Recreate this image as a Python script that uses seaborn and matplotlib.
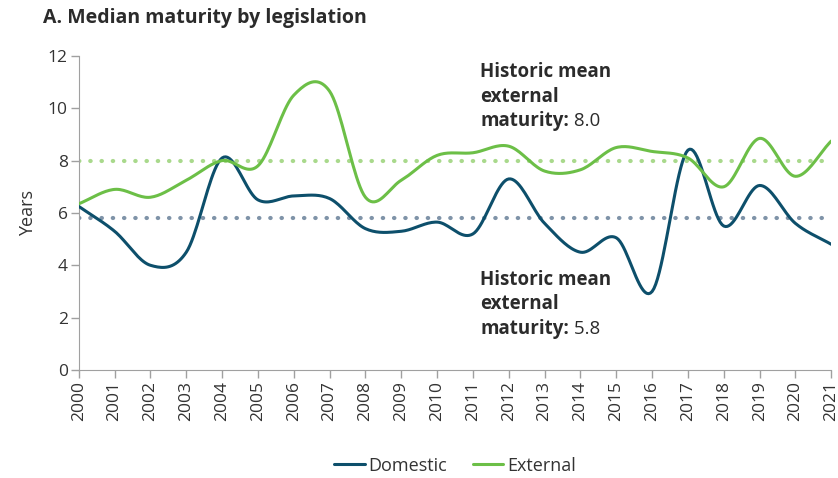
import numpy as np
import pandas as pd
import matplotlib
matplotlib.use("Agg")
import matplotlib.pyplot as plt
import seaborn as sns

# Data
years = list(range(2000, 2022))
domestic = [6.25, 5.3, 4.0, 4.5, 8.1, 6.5, 6.65, 6.55, 5.4, 5.3, 5.65,
            5.2, 7.3, 5.6, 4.5, 5.05, 3.0, 8.4, 5.5, 7.05, 5.6, 4.8]
external = [6.35, 6.9, 6.6, 7.25, 8.0, 7.8, 10.5, 10.65, 6.6, 7.25, 8.2,
            8.3, 8.55, 7.6, 7.65, 8.5, 8.35, 8.1, 7.0, 8.85, 7.4, 8.75]
mean_external = 8.0
mean_domestic = 5.8
series_names = ["Domestic", "External"]
colors = {"Domestic": "#0d4f6b", "External": "#6cbf47"}


def smooth(x, y, n=20):
    """Catmull-Rom style smoothing, like Excel's smoothed line."""
    x = np.asarray(x, float)
    y = np.asarray(y, float)
    px = np.concatenate([[2 * x[0] - x[1]], x, [2 * x[-1] - x[-2]]])
    py = np.concatenate([[2 * y[0] - y[1]], y, [2 * y[-1] - y[-2]]])
    xs, ys = [], []
    t = np.linspace(0, 1, n, endpoint=False)
    for i in range(1, len(px) - 2):
        for arr, out in ((px, xs), (py, ys)):
            p0, p1, p2, p3 = arr[i - 1], arr[i], arr[i + 1], arr[i + 2]
            out.extend(0.5 * ((2 * p1) + (-p0 + p2) * t
                              + (2 * p0 - 5 * p1 + 4 * p2 - p3) * t ** 2
                              + (-p0 + 3 * p1 - 3 * p2 + p3) * t ** 3))
    xs.append(x[-1])
    ys.append(y[-1])
    return np.array(xs), np.array(ys)


sns.set_style("white")
plt.rcParams["font.family"] = ["Open Sans", "DejaVu Sans"]

frames = []
for name, vals in zip(series_names, [domestic, external]):
    sx, sy = smooth(years, vals)
    frames.append(pd.DataFrame({"year": sx, "value": sy, "series": name}))
df = pd.concat(frames, ignore_index=True)

fig = plt.figure(figsize=(8.38, 4.78), dpi=100)
ax = fig.add_axes([0.094, 0.226, 0.898, 0.657])

ax.axhline(mean_external, color="#a9d98c", lw=3.0, ls=(0, (0.1, 2.6)),
           dash_capstyle="round", zorder=1)
ax.axhline(mean_domestic, color="#7f93a8", lw=3.0, ls=(0, (0.1, 2.6)),
           dash_capstyle="round", zorder=1)

sns.lineplot(data=df, x="year", y="value", hue="series", palette=colors,
             lw=2.2, sort=False, estimator=None, ax=ax, zorder=3)

ax.set_xlim(2000, 2021)
ax.set_ylim(0, 12)
ax.set_xticks(years)
ax.set_xticklabels([str(y) for y in years], rotation=90, fontsize=12.5,
                   color="#333333")
ax.set_yticks(range(0, 13, 2))
ax.set_yticklabels([str(v) for v in range(0, 13, 2)], fontsize=12.5,
                   color="#333333")
ax.tick_params(axis="both", length=6, width=1, color="#a0a0a0", pad=2,
               bottom=True, left=True)
for s in ["top", "right"]:
    ax.spines[s].set_visible(False)
for s in ["left", "bottom"]:
    ax.spines[s].set_color("#a0a0a0")
ax.set_xlabel("")
ax.set_ylabel("Years", fontsize=13, color="#333333", labelpad=8)


def note(x, y_top, value):
    kw = dict(fontsize=13.5, fontweight="bold", color="#2b2b2b", va="center")
    ax.text(x, y_top, "Historic mean", **kw)
    ax.text(x, y_top - 0.93, "external", **kw)
    t = ax.text(x, y_top - 1.86, "maturity:", **kw)
    ax.annotate(" " + value, xy=(1, 0.5), xycoords=t, va="center",
                fontsize=13.5, color="#2b2b2b")


note(2011.2, 11.37, "8.0")
note(2011.2, 3.44, "5.8")

handles, labels = ax.get_legend_handles_labels()
ax.legend(handles, labels, loc="center", bbox_to_anchor=(0.5, -0.305),
          ncol=2, frameon=False, fontsize=13, handlelength=1.7,
          handletextpad=0.2, columnspacing=1.4, labelcolor="#333333")

fig.text(0.051, 0.962, "A. Median maturity by legislation", fontsize=14,
         fontweight="bold", color="#2b2b2b", va="center")

fig.savefig("out.png", dpi=100)
